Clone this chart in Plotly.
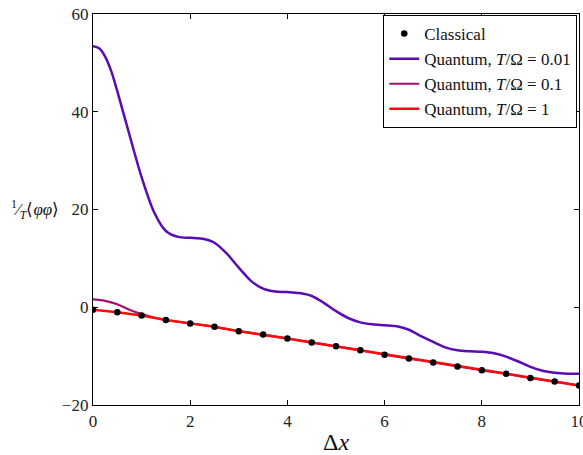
import plotly.graph_objects as go

# Classical points
x_classical = [0, 0.5, 1, 1.5, 2, 2.5, 3, 3.5, 4, 4.5, 5, 5.5, 6, 6.5, 7, 7.5, 8, 8.5, 9, 9.5, 10]
y_classical = [-0.5, -1.0, -1.7, -2.6, -3.3, -4.0, -4.9, -5.6, -6.4, -7.2, -8.0, -8.8, -9.7,
               -10.5, -11.3, -12.1, -12.9, -13.6, -14.5, -15.2, -16.0]

# Quantum, T/Omega = 0.01
x_q001 = [0, 0.125, 0.25, 0.375, 0.5, 0.75, 1.0, 1.25, 1.5, 1.75, 2.0, 2.25, 2.5, 2.75, 3.0, 3.25, 3.5, 3.75,
          4.0, 4.25, 4.5, 4.75, 5.0, 5.25, 5.5, 5.75, 6.0, 6.25, 6.5, 6.75, 7.0, 7.25, 7.5, 7.75,
          8.0, 8.25, 8.5, 8.75, 9.0, 9.25, 9.5, 9.75, 10.0]
y_q001 = [53.4, 53.0, 51.3, 48.3, 44.2, 35.3, 26.6, 19.6, 15.6, 14.4, 14.2, 14.0, 13.2, 11.0, 8.1, 5.4, 3.8, 3.2,
          3.1, 2.9, 2.3, 0.9, -0.8, -2.2, -3.1, -3.5, -3.7, -3.9, -4.6, -5.9, -7.1, -8.2, -8.8, -9.0,
          -9.1, -9.4, -10.1, -11.1, -12.2, -13.0, -13.4, -13.6, -13.6]

# Quantum, T/Omega = 0.1
x_q01 = [0, 0.25, 0.5, 0.75, 1.0, 1.25, 1.5, 2, 2.5, 3, 3.5, 4, 4.5, 5, 5.5, 6, 6.5, 7, 7.5, 8,
         8.5, 9, 9.5, 10]
y_q01 = [1.6, 1.3, 0.6, -0.5, -1.4, -2.1, -2.6, -3.3, -4.0, -4.9, -5.6, -6.4, -7.2, -8.0, -8.8,
         -9.7, -10.5, -11.3, -12.1, -12.9, -13.6, -14.5, -15.2, -16.0]

# Quantum, T/Omega = 1
x_q1 = [0, 0.5, 1, 1.5, 2, 2.5, 3, 3.5, 4, 4.5, 5, 5.5, 6, 6.5, 7, 7.5, 8, 8.5, 9, 9.5, 10]
y_q1 = [-0.5, -1.0, -1.7, -2.6, -3.3, -4.0, -4.9, -5.6, -6.4, -7.2, -8.0, -8.8, -9.7,
        -10.5, -11.3, -12.1, -12.9, -13.6, -14.5, -15.2, -16.0]

x_ticks = [0, 2, 4, 6, 8, 10]
y_ticks = [-20, 0, 20, 40, 60]

FONT = "Liberation Serif"

fig = go.Figure()
fig.add_trace(go.Scatter(x=x_q001, y=y_q001, mode="lines", line=dict(color="#5a0cb4", width=2.5, shape="spline", smoothing=0.8),
                         name="Quantum, <i>T</i>/Ω = 0.01", legendrank=2))
fig.add_trace(go.Scatter(x=x_q01, y=y_q01, mode="lines", line=dict(color="#a8106e", width=2.2, shape="spline"),
                         name="Quantum, <i>T</i>/Ω = 0.1", legendrank=3))
fig.add_trace(go.Scatter(x=x_q1, y=y_q1, mode="lines", line=dict(color="#ff0a0a", width=2.5),
                         name="Quantum, <i>T</i>/Ω = 1", legendrank=4))
fig.add_trace(go.Scatter(x=x_classical, y=y_classical, mode="markers",
                         marker=dict(color="black", size=6.5), name="Classical", legendrank=1))

axis_common = dict(showline=True, linecolor="black", linewidth=1.3, mirror="ticks", ticks="inside",
                   ticklen=5, tickcolor="black", showgrid=False, zeroline=False,
                   ticklabeloverflow="allow", automargin=False,
                   tickfont=dict(family=FONT, size=17, color="#222"))
fig.update_xaxes(range=[0, 10], tickvals=x_ticks, **axis_common,
                 title=dict(text="Δ<i>x</i>", font=dict(family=FONT, size=24, color="#111"), standoff=6))
fig.update_yaxes(range=[-20, 60], tickvals=y_ticks, **axis_common)

fig.add_annotation(xref="paper", yref="paper", x=-0.173, y=0.5, xanchor="left", yanchor="middle",
                   showarrow=False,
                   text="<sup>1</sup>⁄<sub><i>T</i></sub>⟨<i>φφ</i>⟩",
                   font=dict(family=FONT, size=17, color="#111"))

fig.update_layout(
    width=583, height=455,
    margin=dict(l=93, r=4, t=14, b=50, autoexpand=False),
    plot_bgcolor="white", paper_bgcolor="white",
    showlegend=True,
    legend=dict(x=0.996, y=0.998, xanchor="right", yanchor="top", bgcolor="white",
                bordercolor="black", borderwidth=1.2,
                font=dict(family=FONT, size=17, color="#111"),
                tracegroupgap=0, itemwidth=30),
)

fig.write_html("out.html")
